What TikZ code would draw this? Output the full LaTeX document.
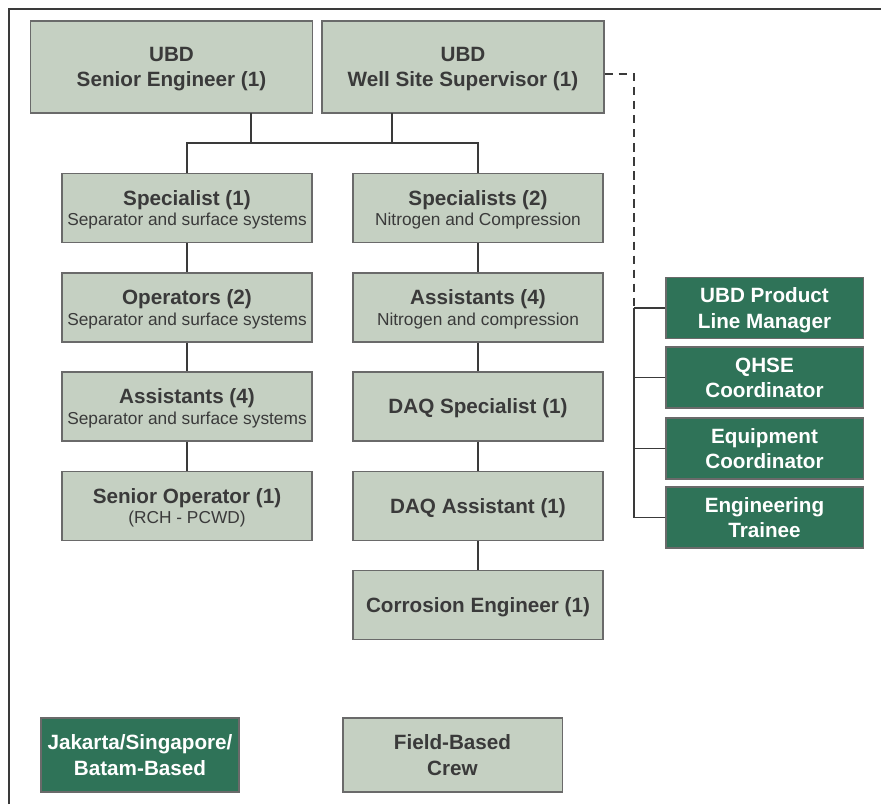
\documentclass[tikz,border=0pt]{standalone}
\usepackage{fontspec}
\setmainfont{Liberation Sans}
\usepackage{tikz}
\usetikzlibrary{positioning, calc}
\definecolor{crewfill}{HTML}{C5D0C2}
\definecolor{crewline}{HTML}{6A6A6A}
\definecolor{basefill}{HTML}{2F7358}
\definecolor{ink}{HTML}{3A3A3A}
\newcommand{\subline}[1]{{\fontsize{12.3}{14}\selectfont\mdseries #1}}

\begin{document}
\begin{tikzpicture}[
  x=0.025cm, y=-0.025cm,
  crew/.style={rectangle, draw=crewline, fill=crewfill, line width=0.9pt, text=ink, align=center, font=\fontsize{14.7}{17.8}\selectfont\bfseries, inner sep=0pt, text depth=0pt},
  lead/.style={crew, minimum width=7.05cm, minimum height=2.3cm},
  role/.style={crew, minimum width=6.25cm, minimum height=1.72cm},
  base/.style={rectangle, draw=crewline, fill=basefill, line width=0.9pt, text=white, align=center, font=\fontsize{14.7}{17.8}\selectfont\bfseries, inner sep=0pt, text depth=0pt, minimum width=4.93cm, minimum height=1.53cm},
  link/.style={draw=ink, line width=1.4pt},
  dotlink/.style={link, dash pattern=on 6pt off 4pt},
  frame/.style={draw=ink, line width=1.6pt}
]
\useasboundingbox (0,0) rectangle (881,804);
\draw[frame] (9,804) -- (9,9) -- (881,9);

% top management
\node[lead] (senior)   at (171.5,67) {UBD\\Senior Engineer (1)};
\node[lead] (wellsite) at (463,67)   {UBD\\Well Site Supervisor (1)};

% separator column
\node[role] (spec1)  at (187,208)   {Specialist (1)\\[-3pt]\subline{Separator and surface systems}};
\node[role] (oper)   at (187,307.5) {Operators (2)\\[-3pt]\subline{Separator and surface systems}};
\node[role] (assl)   at (187,406.5) {Assistants (4)\\[-3pt]\subline{Separator and surface systems}};
\node[role] (senop)  at (187,506)   {Senior Operator (1)\\[-3pt]\subline{(RCH - PCWD)}};

% nitrogen column
\node[role] (spec2)  at (478,208)   {Specialists (2)\\[-3pt]\subline{Nitrogen and Compression}};
\node[role] (assr)   at (478,307.5) {Assistants (4)\\[-3pt]\subline{Nitrogen and compression}};
\node[role] (daqs)   at (478,406.5) {DAQ Specialist (1)};
\node[role] (daqa)   at (478,506)   {DAQ Assistant (1)};
\node[role] (corr)   at (478,605)   {Corrosion Engineer (1)};

% office support
\node[base] (plm)     at (764.5,308)   {UBD Product\\Line Manager};
\node[base] (qhse)    at (764.5,377.5) {QHSE\\Coordinator};
\node[base] (equip)   at (764.5,448.5) {Equipment\\Coordinator};
\node[base] (trainee) at (764.5,517.5) {Engineering\\Trainee};

% legend
\node[base, minimum width=4.95cm, minimum height=1.85cm] (office) at (140,755)   {Jakarta/Singapore/\\Batam-Based};
\node[crew, minimum width=5.48cm, minimum height=1.85cm] (field)  at (452.5,755) {Field-Based\\Crew};

% links
\coordinate (bus)      at (330,143);
\coordinate (seniorft) at (251,113);
\coordinate (wellft)   at (392,113);
\coordinate (dashturn) at (634,74);
\draw[link] (spec1.north) |- (bus) -| (spec2.north);
\draw[link] (seniorft) -- (seniorft |- bus);
\draw[link] (wellft) -- (wellft |- bus);
\draw[link] (spec1) -- (oper);
\draw[link] (oper) -- (assl);
\draw[link] (assl) -- (senop);
\draw[link] (spec2) -- (assr);
\draw[link] (assr) -- (daqs);
\draw[link] (daqs) -- (daqa);
\draw[link] (daqa) -- (corr);
\draw[dotlink] (wellsite.east |- dashturn) -- (dashturn) -- (dashturn |- plm.west);
\draw[link] (dashturn |- plm.west) -- (dashturn |- trainee.west);
\foreach \n in {plm,qhse,equip,trainee}
  \draw[link] (\n.west) -- (dashturn |- \n.west);
\end{tikzpicture}
\end{document}
